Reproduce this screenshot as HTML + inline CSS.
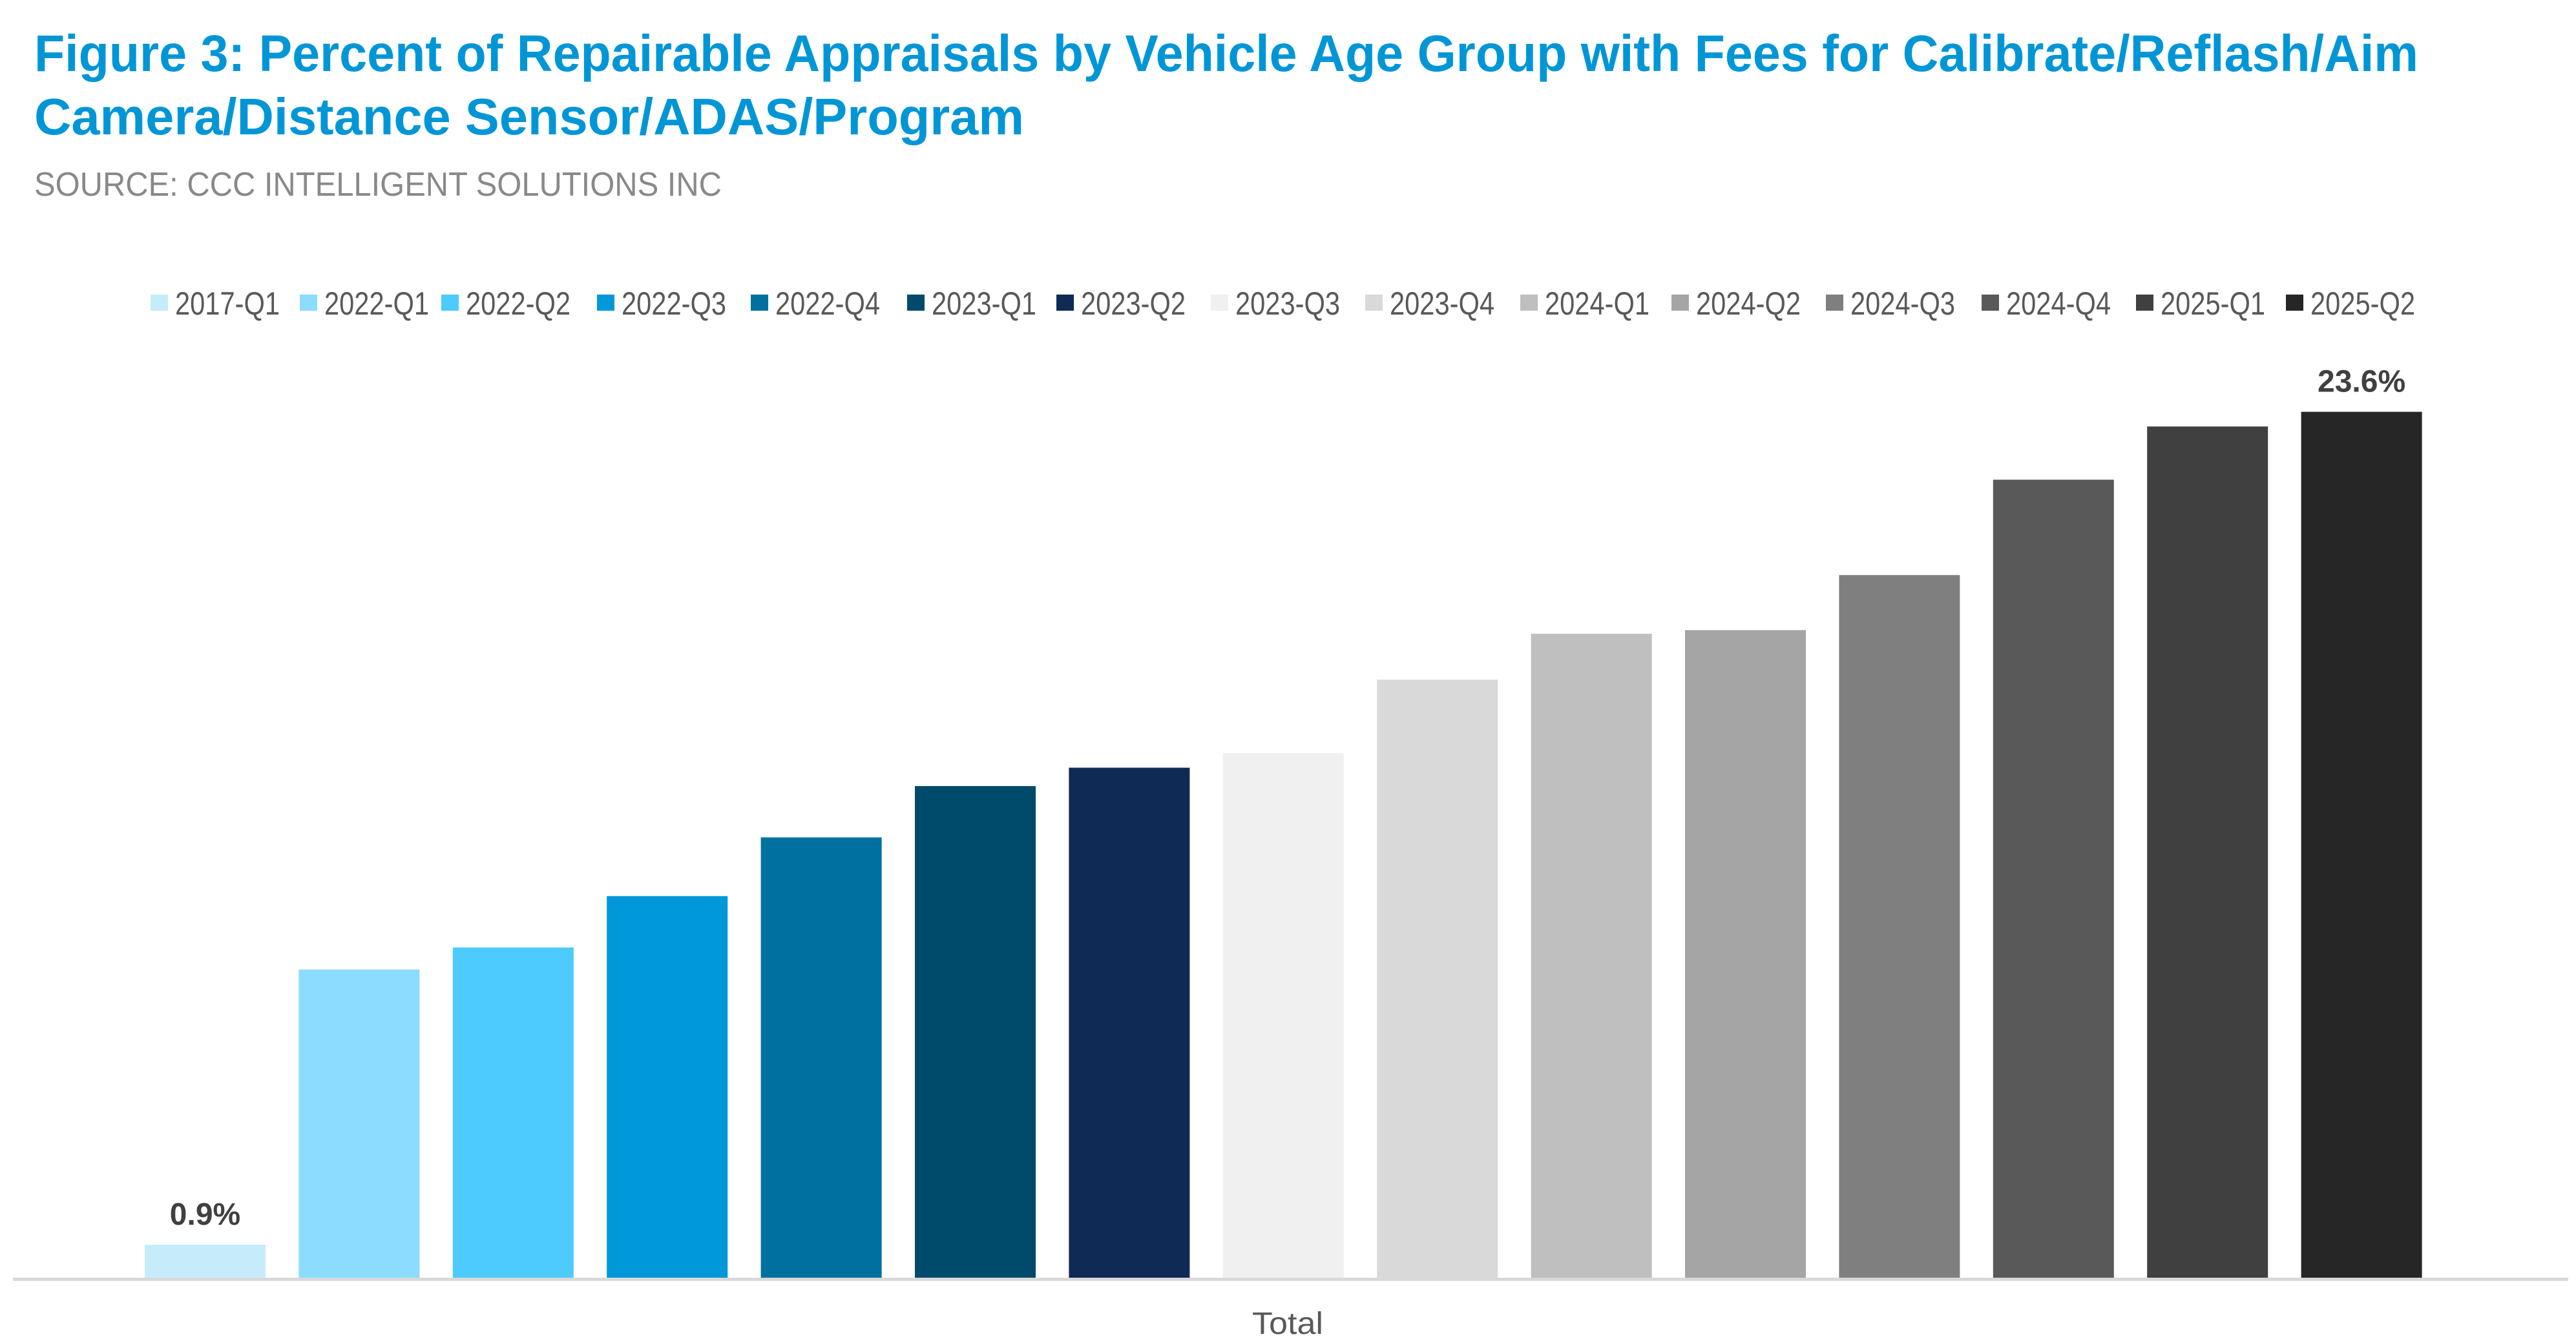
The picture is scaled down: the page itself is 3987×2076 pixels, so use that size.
<!DOCTYPE html>
<html><head><meta charset="utf-8"><style>
html,body{margin:0;padding:0;background:#fff;}
svg{display:block;}
text{font-family:"Liberation Sans",sans-serif;}
</style></head><body>
<svg id="chart" width="3987" height="2076" viewBox="0 0 3987 2076" xmlns="http://www.w3.org/2000/svg">
<rect width="3987" height="2076" fill="#fff"/>
<text x="53" y="110" font-size="80" font-weight="bold" fill="#0096d6" textLength="3690" lengthAdjust="spacingAndGlyphs">Figure 3: Percent of Repairable Appraisals by Vehicle Age Group with Fees for Calibrate/Reflash/Aim</text>
<text x="53" y="208" font-size="80" font-weight="bold" fill="#0096d6" textLength="1532" lengthAdjust="spacingAndGlyphs">Camera/Distance Sensor/ADAS/Program</text>
<text x="53" y="303" font-size="52" fill="#898989" textLength="1064" lengthAdjust="spacingAndGlyphs">SOURCE: CCC INTELLIGENT SOLUTIONS INC</text>
<g id="legend"></g>
<g id="bars"></g>
<rect x="20" y="1978" width="3955" height="5" fill="#d9d9d9"/>
<text x="1993" y="2065" font-size="48" fill="#595959" text-anchor="middle" textLength="110" lengthAdjust="spacingAndGlyphs">Total</text>
</svg>
<script>
const categories = ["2017-Q1","2022-Q1","2022-Q2","2022-Q3","2022-Q4","2023-Q1","2023-Q2","2023-Q3","2023-Q4","2024-Q1","2024-Q2","2024-Q3","2024-Q4","2025-Q1","2025-Q2"];
const values = [0.9,8.4,9.0,10.4,12.0,13.4,13.9,14.3,16.3,17.55,17.65,19.15,21.75,23.2,23.6];
const labelled = ["0.9%", "", "", "", "", "", "", "", "", "", "", "", "", "", "23.6%"];
const colors = ["#c6ecfc","#8bdcff","#4dcbff","#0098d8","#0070a0","#004b6b","#0f2a55","#f0f0f0","#d9d9d9","#bfbfbf","#a5a5a5","#7f7f7f","#595959","#404040","#262626"];

const NS = "http://www.w3.org/2000/svg";
const baseY = 1978, pxPerUnit = 56.8;
const firstCenter = 317.5, step = 238.4, barW = 187;
function xScale(i){ return firstCenter + i*step; }
function yScale(v){ return baseY - v*pxPerUnit; }

const bars = document.getElementById('bars');
categories.forEach((c,i)=>{
  const r = document.createElementNS(NS,'rect');
  
  
  r.setAttribute('x', xScale(i)-barW/2);
  r.setAttribute('y', yScale(values[i]));
  r.setAttribute('width', barW);
  r.setAttribute('height', baseY - yScale(values[i]));
  r.setAttribute('fill', colors[i]);
  bars.appendChild(r);
  if (labelled[i]) {
    const t = document.createElementNS(NS,'text');
    
    
    t.setAttribute('x', xScale(i));
    t.setAttribute('y', yScale(values[i]) - 31);
    t.setAttribute('font-size', '48');
    t.setAttribute('font-weight', 'bold');
    t.setAttribute('fill', '#404040');
    t.setAttribute('text-anchor', 'middle');
    t.textContent = labelled[i];
    bars.appendChild(t);
  }
});

const legend = document.getElementById('legend');
const legX = [233,464,683,924,1162,1404,1635,1874,2113,2353,2587,2826,3067,3306,3538];
categories.forEach((c,i)=>{
  const g = document.createElementNS(NS,'g');
  
  
  const s = document.createElementNS(NS,'rect');
  s.setAttribute('x', legX[i]); s.setAttribute('y', 456);
  s.setAttribute('width', 27); s.setAttribute('height', 25);
  s.setAttribute('fill', colors[i]);
  g.appendChild(s);
  const t = document.createElementNS(NS,'text');
  t.setAttribute('x', legX[i]+38); t.setAttribute('y', 487);
  t.setAttribute('font-size', '50'); t.setAttribute('fill', '#595959');
  t.setAttribute('textLength', '162'); t.setAttribute('lengthAdjust', 'spacingAndGlyphs');
  t.textContent = c;
  g.appendChild(t);
  legend.appendChild(g);
});
</script>
</body></html>
